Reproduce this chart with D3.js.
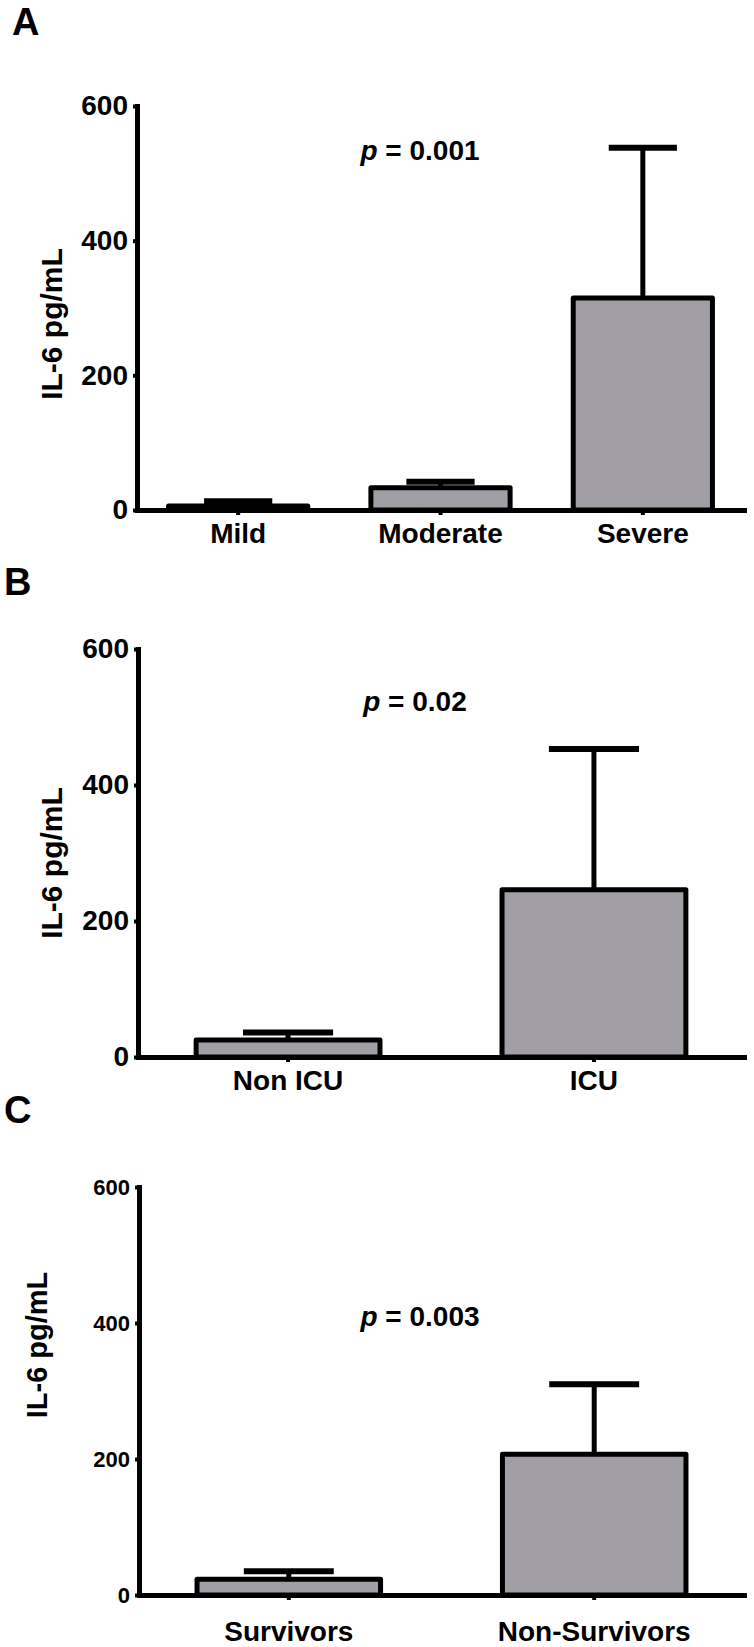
<!DOCTYPE html>
<html>
<head>
<meta charset="utf-8">
<script src="https://cdn.jsdelivr.net/npm/d3@7"></script>
<style>
  body { margin: 0; background: #fff; }
  text { font-family: "Liberation Sans", Arial, sans-serif; font-weight: bold; }
</style>
</head>
<body>
<svg id="chart" width="754" height="1647"></svg>
<script>
// values (mean and upper error)
const yTicks = [0, 200, 400, 600];

const severityGroups = ['Mild', 'Moderate', 'Severe'];
const severityMeans = [6, 33, 315];
const severityErrors = [7, 9, 223];

const icuGroups = ['Non ICU', 'ICU'];
const icuMeans = [25, 246];
const icuErrors = [11, 207];

const outcomeGroups = ['Survivors', 'Non-Survivors'];
const outcomeMeans = [23, 207];
const outcomeErrors = [12, 103];

const pValues = ['0.001', '0.02', '0.003'];
const panelLetters = ['A', 'B', 'C'];

const svg = d3.select('#chart');
const barFill = '#a19fa5';

function drawPanel(opts) {
  const g = svg.append('g');

  const x = d3.scaleBand()
    .domain(opts.groups)
    .range([opts.x0, opts.x1])
    .paddingInner(opts.padIn)
    .paddingOuter(opts.padOut);

  const y = d3.scaleLinear()
    .domain([0, 600])
    .range([opts.yBottom, opts.yTop]);

  const rows = opts.groups.map(function (d, i) {
    return { name: d, mean: opts.means[i], err: opts.errors[i] };
  });

  // error bars (upper only)
  const capW = x.bandwidth() * 0.49;
  const eb = g.selectAll('.err')
    .data(rows)
    .enter()
    .append('g')
    .attr('class', 'err');

  eb.append('line')
    .attr('x1', function (d) { return x(d.name) + x.bandwidth() / 2; })
    .attr('x2', function (d) { return x(d.name) + x.bandwidth() / 2; })
    .attr('y1', function (d) { return y(d.mean); })
    .attr('y2', function (d) { return y(d.mean + d.err); })
    .attr('stroke', '#000')
    .attr('stroke-width', 5);

  eb.append('line')
    .attr('x1', function (d) { return x(d.name) + x.bandwidth() / 2 - capW / 2; })
    .attr('x2', function (d) { return x(d.name) + x.bandwidth() / 2 + capW / 2; })
    .attr('y1', function (d) { return y(d.mean + d.err); })
    .attr('y2', function (d) { return y(d.mean + d.err); })
    .attr('stroke', '#000')
    .attr('stroke-width', 6);

  g.selectAll('.bar')
    .data(rows)
    .enter()
    .append('rect')
    .attr('class', 'bar')
    .attr('x', function (d) { return x(d.name); })
    .attr('y', function (d) { return y(d.mean); })
    .attr('width', x.bandwidth())
    .attr('height', function (d) { return y(0) - y(d.mean); })
    .attr('fill', barFill)
    .attr('stroke', '#000')
    .attr('stroke-width', 5)
    .attr('stroke-linejoin', 'round');

  // y axis
  const yAxis = g.append('g')
    .attr('transform', 'translate(' + opts.x0 + ',0)')
    .call(d3.axisLeft(y).tickValues(yTicks).tickSize(4).tickSizeOuter(0).tickPadding(5));
  yAxis.select('.domain').attr('stroke-width', 5).attr('stroke-linecap', 'square');
  yAxis.selectAll('.tick line').attr('stroke-width', 4);
  yAxis.selectAll('.tick text')
    .style('font-size', opts.tickFont + 'px')
    .attr('fill', '#000');

  // x axis
  const xAxis = g.append('g')
    .attr('transform', 'translate(0,' + opts.yBottom + ')')
    .call(d3.axisBottom(x).tickSize(5).tickSizeOuter(0).tickPadding(opts.xPad));
  xAxis.select('.domain').attr('stroke-width', 5).attr('stroke-linecap', 'square');
  xAxis.selectAll('.tick line').attr('stroke-width', 4);
  xAxis.selectAll('.tick text')
    .style('font-size', '28px')
    .attr('fill', '#000');

  // y label
  g.append('text')
    .attr('transform', 'translate(' + opts.labelX + ',' + opts.labelY + ') rotate(-90)')
    .attr('text-anchor', 'middle')
    .style('font-size', opts.labelFont + 'px')
    .text('IL-6 pg/mL');

  // p value
  const p = g.append('text')
    .attr('x', opts.pX)
    .attr('y', opts.pY)
    .attr('text-anchor', 'middle')
    .style('font-size', '28px');
  p.append('tspan').style('font-style', 'italic').text('p');
  p.append('tspan').text(' = ' + opts.p);

  // panel letter
  g.append('text')
    .attr('x', opts.letterX)
    .attr('y', opts.letterY)
    .style('font-size', '38px')
    .text(opts.letter);
}

drawPanel({
  groups: severityGroups, means: severityMeans, errors: severityErrors,
  x0: 137, x1: 744, padIn: 0.312, padOut: 0.156,
  yBottom: 510, yTop: 106, tickFont: 28, xPad: 8,
  labelX: 62, labelY: 324, labelFont: 30,
  pX: 420, pY: 160, p: pValues[0],
  letter: panelLetters[0], letterX: 12, letterY: 35
});

drawPanel({
  groups: icuGroups, means: icuMeans, errors: icuErrors,
  x0: 138, x1: 744, padIn: 0.399, padOut: 0.19,
  yBottom: 1057, yTop: 649, tickFont: 28, xPad: 8,
  labelX: 62, labelY: 863, labelFont: 30,
  pX: 415, pY: 711, p: pValues[1],
  letter: panelLetters[1], letterX: 4, letterY: 595
});

drawPanel({
  groups: outcomeGroups, means: outcomeMeans, errors: outcomeErrors,
  x0: 139, x1: 744, padIn: 0.399, padOut: 0.19,
  yBottom: 1595, yTop: 1187, tickFont: 22, xPad: 21,
  labelX: 47, labelY: 1345, labelFont: 29,
  pX: 420, pY: 1326, p: pValues[2],
  letter: panelLetters[2], letterX: 4, letterY: 1123
});
</script>
</body>
</html>
